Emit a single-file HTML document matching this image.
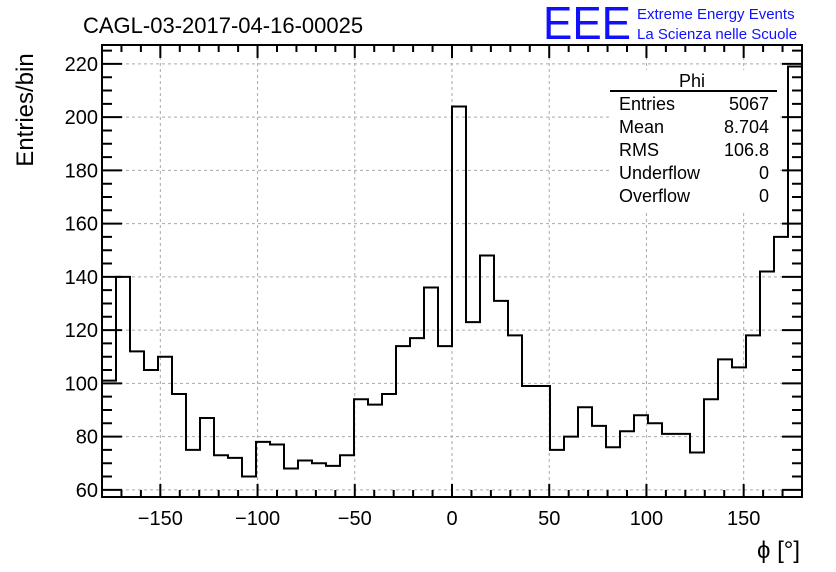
<!DOCTYPE html>
<html><head><meta charset="utf-8"><style>
body{margin:0;background:#fff;}
svg{display:block;font-family:"Liberation Sans",sans-serif;}
</style></head><body>
<svg id="c" width="836" height="572">
<text x="83" y="33" font-size="22">CAGL-03-2017-04-16-00025</text>
<text x="543" y="39" font-size="46" fill="#1010ff" font-weight="normal" textLength="88" lengthAdjust="spacingAndGlyphs">EEE</text>
<text x="637" y="19" font-size="15" fill="#1010ff">Extreme Energy Events</text>
<text x="637" y="39" font-size="15" fill="#1010ff">La Scienza nelle Scuole</text>
<text transform="translate(33,110) rotate(-90)" text-anchor="middle" font-size="24">Entries/bin</text>
<text x="800" y="558" text-anchor="end" font-size="24">ϕ [°]</text>
<g id="grid"></g><g id="hist"></g><g id="axes"></g>
<g font-size="18">
<rect x="612" y="70" width="168" height="140" fill="#fff"/>
<text x="692" y="87" text-anchor="middle">Phi</text>
<line x1="610" y1="91" x2="777" y2="91" stroke="#000" stroke-width="2"/>
<text x="619" y="110">Entries</text><text x="769" y="110" text-anchor="end">5067</text>
<text x="619" y="133">Mean</text><text x="769" y="133" text-anchor="end">8.704</text>
<text x="619" y="156">RMS</text><text x="769" y="156" text-anchor="end">106.8</text>
<text x="619" y="179">Underflow</text><text x="769" y="179" text-anchor="end">0</text>
<text x="619" y="202">Overflow</text><text x="769" y="202" text-anchor="end">0</text>
</g>
</svg>
<script>
const counts=[101,140,112,105,110,96,75,87,73,72,65,78,77,68,71,70,69,73,94,92,96,114,117,136,114,204,123,148,131,118,99,99,75,80,91,84,76,82,88,85,81,81,74,94,109,106,118,142,155,219];
const xTicks=[-150,-100,-50,0,50,100,150];
const yTicks=[60,80,100,120,140,160,180,200,220];
const xMin=-180,xMax=180,yMin=57.3,yMax=227.1;
const L=102,R=802,T=45,B=497;
const NS="http://www.w3.org/2000/svg";
const sx=v=>L+(v-xMin)/(xMax-xMin)*(R-L);
const sy=v=>B-(v-yMin)/(yMax-yMin)*(B-T);
function mk(tag,attrs,parent){const e=document.createElementNS(NS,tag);for(const k in attrs)e.setAttribute(k,attrs[k]);parent.appendChild(e);return e;}
const grid=document.getElementById('grid'),hist=document.getElementById('hist'),axes=document.getElementById('axes');
xTicks.forEach(t=>{const l=mk('line',{x1:sx(t),x2:sx(t),y1:T,y2:B,stroke:'#aaa','stroke-dasharray':'3,3'},grid);

});
yTicks.forEach(t=>{const l=mk('line',{x1:L,x2:R,y1:sy(t),y2:sy(t),stroke:'#aaa','stroke-dasharray':'3,3'},grid);

});
const w=(xMax-xMin)/counts.length;
let d='M'+sx(xMin)+','+B;
counts.forEach((c,i)=>{d+=' L'+sx(xMin+i*w)+','+sy(c)+' L'+sx(xMin+(i+1)*w)+','+sy(c);});
d+=' L'+sx(xMax)+','+B;
const p=mk('path',{d:d,fill:'none',stroke:'#000','stroke-width':2},hist);


const f=mk('rect',{x:L,y:T,width:R-L,height:B-T,fill:'none',stroke:'#000','stroke-width':2},axes);


let td='';
for(let v=-170;v<=170;v+=10){const maj=v%50===0,len=maj?13:7,x=sx(v);td+=`M${x},${B}v${-len}M${x},${T}v${len}`;}
for(let v=60;v<=225;v+=5){const maj=v%20===0,len=maj?20:10,y=sy(v);td+=`M${L},${y}h${len}M${R},${y}h${-len}`;}
const tk=mk('path',{d:td,stroke:'#000','stroke-width':2,fill:'none'},axes);


xTicks.forEach(t=>{const e=mk('text',{x:sx(t),y:525,'text-anchor':'middle','font-size':20},axes);e.textContent=(t<0?'\u2212'+(-t):t);

});
yTicks.forEach(t=>{const e=mk('text',{x:98,y:sy(t)+7,'text-anchor':'end','font-size':20},axes);e.textContent=t;

});
</script>
</body></html>
